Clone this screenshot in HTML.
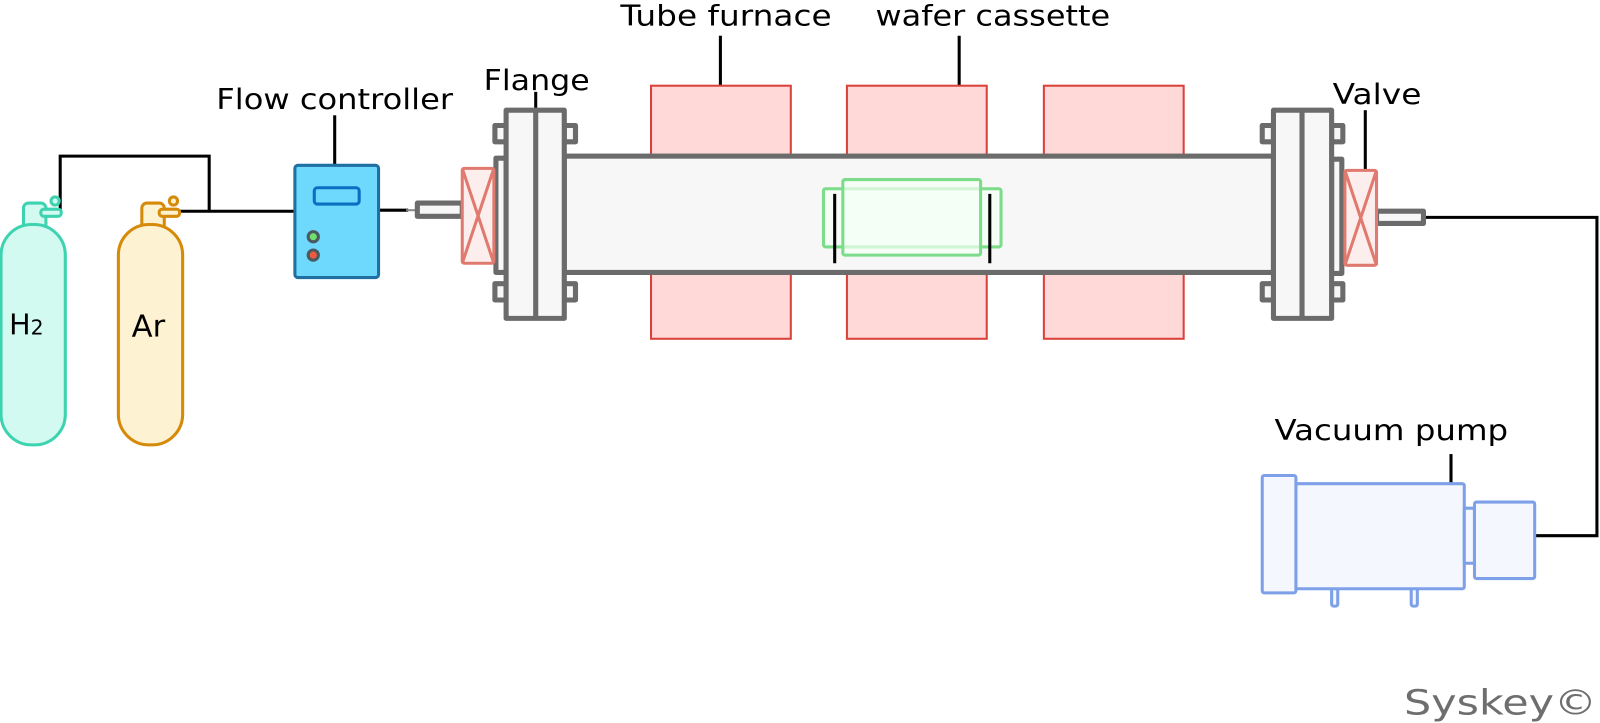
<!DOCTYPE html>
<html><head><meta charset="utf-8"><style>
html,body{margin:0;padding:0;background:#fff;overflow:hidden;width:1600px;height:723px;}
svg{display:block;position:absolute;left:0;top:0;}
text{font-family:"DejaVu Sans","Liberation Sans",sans-serif;font-size:28px;fill:#000;}
</style></head><body>
<svg width="1600" height="723" viewBox="0 0 1600 723" xmlns="http://www.w3.org/2000/svg">
<g transform="scale(1.0204)">
<!-- labels -->
<text x="608" y="25" textLength="207" lengthAdjust="spacingAndGlyphs">Tube furnace</text>
<text x="858" y="25" textLength="230" lengthAdjust="spacingAndGlyphs">wafer cassette</text>
<text x="474" y="88" textLength="104" lengthAdjust="spacingAndGlyphs">Flange</text>
<text x="212" y="107" textLength="232" lengthAdjust="spacingAndGlyphs">Flow controller</text>
<text x="1306" y="102" textLength="87" lengthAdjust="spacingAndGlyphs">Valve</text>
<text x="1249" y="431" textLength="229" lengthAdjust="spacingAndGlyphs">Vacuum pump</text>
<text x="1376" y="700" style="font-size:34px;fill:#6e6e6e" textLength="189" lengthAdjust="spacingAndGlyphs">Syskey©</text>

<!-- leader lines -->
<g stroke="#000" stroke-width="3" fill="none">
<line x1="706" y1="35" x2="706" y2="84"/>
<line x1="940" y1="35" x2="940" y2="176"/>
<line x1="525" y1="90" x2="525" y2="108"/>
<line x1="328" y1="113" x2="328" y2="162"/>
<line x1="1338" y1="108" x2="1338" y2="167"/>
<line x1="1422" y1="445" x2="1422" y2="474"/>
<polyline points="59,210 59,153 205,153 205,207"/>
<line x1="176" y1="207" x2="289" y2="207"/>
<line x1="371" y1="206" x2="400" y2="206"/>
<polyline points="1395,213 1565,213 1565,525 1505,525"/>
</g>
<line x1="398" y1="206" x2="410" y2="206" stroke="#888" stroke-width="2"/>

<!-- furnace blocks -->
<g fill="#ffd8d8" stroke="#d9423a" stroke-width="2">
<rect x="638" y="84" width="137" height="248"/>
<rect x="830" y="84" width="137" height="248"/>
<rect x="1023" y="84" width="137" height="248"/>
</g>

<!-- tube -->
<rect x="553" y="153" width="695" height="114" fill="#f7f7f7" stroke="#6b6b6b" stroke-width="5"/>

<!-- cassette -->
<g stroke="#7ddc8a" stroke-width="3" fill="#f3fff5" fill-opacity="0.7">
<rect x="807" y="185" width="174" height="57" rx="2"/>
<rect x="826" y="176" width="135" height="74" rx="2"/>
</g>
<g stroke="#000" stroke-width="3">
<line x1="818" y1="190" x2="818" y2="258"/>
<line x1="970" y1="190" x2="970" y2="258"/>
</g>

<!-- flanges -->
<g fill="#f7f7f7" stroke="#6b6b6b" stroke-width="5" stroke-linejoin="round">
<rect x="485" y="123" width="11" height="16"/>
<rect x="485" y="278" width="11" height="16"/>
<rect x="553" y="123" width="11" height="16"/>
<rect x="553" y="278" width="11" height="16"/>
<rect x="486" y="155" width="10" height="112"/>
<rect x="496" y="108" width="57" height="204"/>
<line x1="525" y1="110" x2="525" y2="310"/>

<rect x="1237" y="123" width="11" height="16"/>
<rect x="1237" y="278" width="11" height="16"/>
<rect x="1305" y="123" width="11" height="16"/>
<rect x="1305" y="278" width="11" height="16"/>
<rect x="1305" y="156" width="10" height="112"/>
<rect x="1248" y="108" width="57" height="204"/>
<line x1="1276" y1="110" x2="1276" y2="310"/>

<rect x="409" y="199" width="44" height="13"/>
<rect x="1349" y="207" width="46" height="12"/>
</g>

<!-- valves -->
<g fill="#fdeeee" stroke="#e07a6f" stroke-width="3">
<rect x="453" y="165" width="31" height="93" rx="2"/>
<polyline points="453,165 484,258" fill="none"/>
<polyline points="484,165 453,258" fill="none"/>
<rect x="1318" y="167" width="31" height="93" rx="2"/>
<polyline points="1318,167 1349,260" fill="none"/>
<polyline points="1349,167 1318,260" fill="none"/>
</g>

<!-- flow controller -->
<rect x="289" y="162" width="82" height="110" rx="3" fill="#6ed8fd" stroke="#1f6fa0" stroke-width="3"/>
<rect x="308" y="184" width="44" height="16" rx="3" fill="#6ed8fd" stroke="#0a6fc2" stroke-width="3"/>
<circle cx="307" cy="232" r="5" fill="#6de06d" stroke="#4a5a60" stroke-width="3"/>
<circle cx="307" cy="250" r="5" fill="#f05a3c" stroke="#4a5a60" stroke-width="3"/>

<!-- H2 cylinder -->
<g fill="#d2faf0" stroke="#3ed3b0" stroke-width="3">
<rect x="23" y="199" width="22" height="26" rx="5"/>
<rect x="1" y="220" width="63" height="216" rx="30"/>
<rect x="40" y="205" width="20" height="7" rx="3"/>
<circle cx="54" cy="197" r="4"/>
</g>
<text x="9" y="328" style="font-size:28px">H<tspan style="font-size:20px">2</tspan></text>
<!-- Ar cylinder -->
<g fill="#fdf2d2" stroke="#d68a0a" stroke-width="3">
<rect x="139" y="199" width="22" height="26" rx="5"/>
<rect x="116" y="220" width="63" height="216" rx="30"/>
<rect x="156" y="205" width="20" height="7" rx="3"/>
<circle cx="170" cy="197" r="4"/>
</g>
<text x="129" y="330" style="font-size:30px">Ar</text>

<!-- vacuum pump -->
<g fill="#f4f8fe" stroke="#7ea0e8" stroke-width="3">
<rect x="1383" y="570" width="6" height="24" rx="2"/>
<rect x="1305" y="570" width="6" height="24" rx="2"/>
<rect x="1270" y="474" width="165" height="103" rx="2"/>
<rect x="1237" y="466" width="33" height="115" rx="2"/>
<rect x="1435" y="498" width="10" height="54" rx="1"/>
<rect x="1445" y="492" width="59" height="75" rx="2"/>
</g>
</g>
</svg>
</body></html>
